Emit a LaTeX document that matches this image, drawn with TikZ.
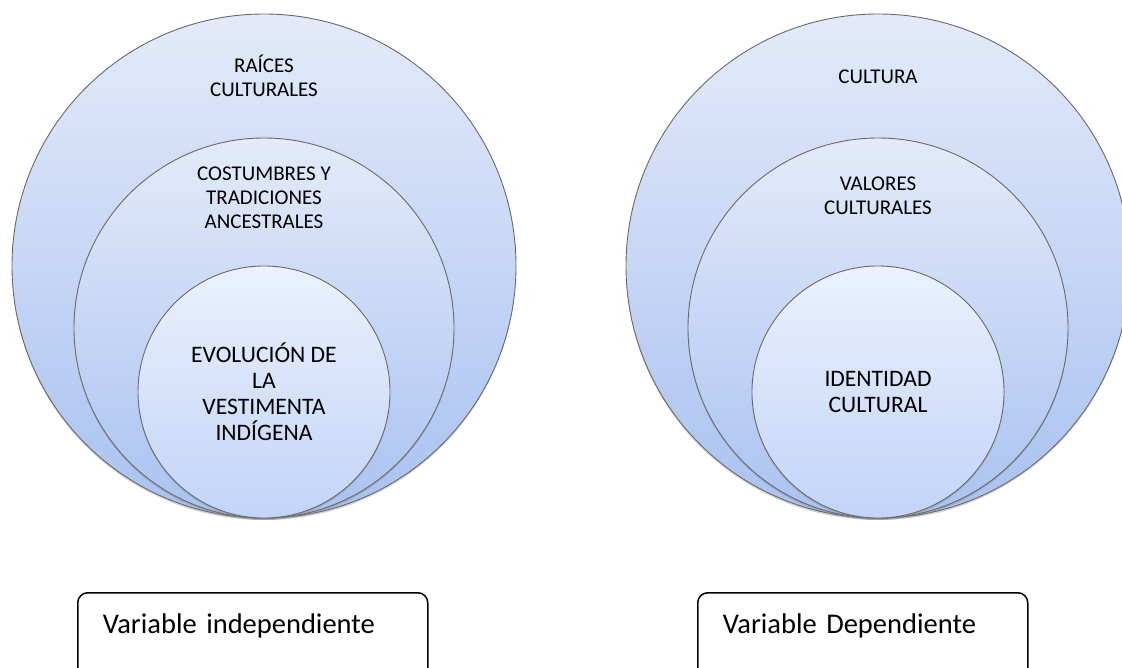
\documentclass[tikz,border=0pt]{standalone}
\usepackage{fontspec}
\setmainfont{Carlito}
\usepackage{tikz}
\usetikzlibrary{positioning}
\usetikzlibrary{shadows}
\definecolor{ringtop}{RGB}{228,234,250}
\definecolor{ringbot}{RGB}{168,194,240}
\definecolor{coretop}{RGB}{235,241,253}
\definecolor{corebot}{RGB}{194,212,248}
\definecolor{ringline}{RGB}{105,105,105}
\tikzstyle{ring} = [circle, draw=ringline, line width=0.9pt, top color=ringtop, bottom color=ringbot, drop shadow={opacity=0.35, shadow xshift=0pt, shadow yshift=-2pt}]
\tikzstyle{core} = [top color=coretop, bottom color=corebot, align=center, font=\fontsize{23.6}{26}\selectfont]
\tikzstyle{ringtext} = [align=center, font=\fontsize{21}{24}\selectfont]
\tikzstyle{varbox} = [rectangle, rounded corners=10pt, draw=black, line width=1.5pt, align=left, anchor=north west, inner xsep=25pt, inner ysep=21pt, text height=20pt, text depth=60pt, font=\fontsize{28.5}{34}\selectfont]

\begin{document}
\begin{tikzpicture}[x=1pt, y=-1pt]
\useasboundingbox (0,0) rectangle (1122,668);

% variable independiente
\node (raices) [ring, minimum size=504pt] at (264,266) {};
\node (raicesTxt) [ringtext, below=62.5pt of raices.north, anchor=center] {RAÍCES\\CULTURALES};
\node (costumbres) [ring, minimum size=380pt] at (264,328) {};
\node (costumbresTxt) [ringtext, below=60pt of costumbres.north, anchor=center] {COSTUMBRES Y\\TRADICIONES\\ANCESTRALES};
\node (evolucion) [ring, core, minimum size=252pt] at (264,392) {EVOLUCIÓN DE\\LA\\VESTIMENTA\\INDÍGENA};

% variable dependiente
\node (cultura) [ring, minimum size=504pt] at (878,266) {};
\node (culturaTxt) [ringtext, below=63pt of cultura.north, anchor=center] {CULTURA};
\node (valores) [ring, minimum size=380pt] at (878,328) {};
\node (valoresTxt) [ringtext, below=58.5pt of valores.north, anchor=center] {VALORES\\CULTURALES};
\node (identidad) [ring, core, minimum size=252pt] at (878,392) {IDENTIDAD\\CULTURAL};

\node (indep) [varbox, text width=300pt] at (77,592) {Variable independiente};
\node (dep) [varbox, text width=280pt] at (697,592) {Variable Dependiente};
\end{tikzpicture}
\end{document}
